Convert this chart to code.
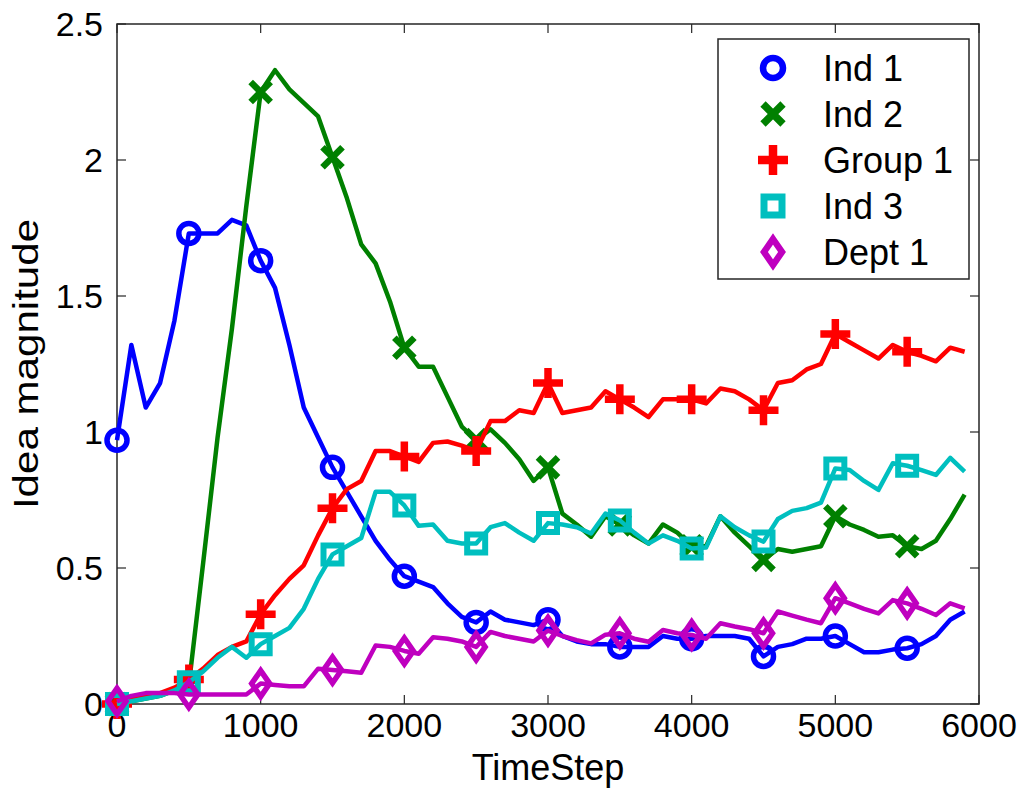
<!DOCTYPE html>
<html>
<head>
<meta charset="utf-8">
<script src="https://cdn.jsdelivr.net/npm/d3@7"></script>
<style>
  body { margin: 0; background: #fff; }
  text { font-family: "Liberation Sans", Arial, Helvetica, sans-serif; fill: #000; }
</style>
</head>
<body>
<div id="chart"></div>
<script>
// Dimensions
const width = 1024;
const height = 794;
const margin = { top: 24, right: 45, bottom: 90, left: 117 };

// Data (sampled every 100 time steps)
const timeSteps = [
  0, 100, 200, 300, 400, 500, 600, 700, 800, 900,
  1000, 1100, 1200, 1300, 1400, 1500, 1600, 1700, 1800, 1900,
  2000, 2100, 2200, 2300, 2400, 2500, 2600, 2700, 2800, 2900,
  3000, 3100, 3200, 3300, 3400, 3500, 3600, 3700, 3800, 3900,
  4000, 4100, 4200, 4300, 4400, 4500, 4600, 4700, 4800, 4900,
  5000, 5100, 5200, 5300, 5400, 5500, 5600, 5700, 5800, 5900
];

const ind1 = [
  0.97, 1.32, 1.09, 1.18, 1.41, 1.73, 1.73, 1.73, 1.78, 1.76,
  1.63, 1.53, 1.32, 1.09, 0.98, 0.87, 0.78, 0.69, 0.60, 0.53,
  0.47, 0.45, 0.43, 0.37, 0.32, 0.30, 0.34, 0.31, 0.30, 0.29,
  0.31, 0.25, 0.23, 0.22, 0.22, 0.21, 0.21, 0.21, 0.25, 0.24,
  0.24, 0.25, 0.25, 0.25, 0.24, 0.175, 0.21, 0.22, 0.24, 0.24,
  0.25, 0.22, 0.19, 0.19, 0.20, 0.205, 0.22, 0.25, 0.31, 0.34
];

const ind2 = [
  0.00, 0.01, 0.02, 0.03, 0.05, 0.07, 0.52, 0.98, 1.38, 1.83,
  2.25, 2.33, 2.26, 2.21, 2.16, 2.01, 1.86, 1.69, 1.62, 1.48,
  1.31, 1.24, 1.24, 1.13, 1.02, 0.97, 1.01, 0.96, 0.90, 0.82,
  0.87, 0.70, 0.66, 0.615, 0.69, 0.66, 0.62, 0.59, 0.66, 0.63,
  0.58, 0.58, 0.69, 0.63, 0.58, 0.53, 0.57, 0.56, 0.57, 0.58,
  0.69, 0.66, 0.64, 0.615, 0.62, 0.58, 0.57, 0.60, 0.68, 0.77
];

const group1 = [
  0.00, 0.02, 0.03, 0.04, 0.06, 0.09, 0.13, 0.18, 0.21, 0.23,
  0.33, 0.40, 0.46, 0.51, 0.62, 0.72, 0.79, 0.82, 0.93, 0.93,
  0.91, 0.89, 0.96, 0.965, 0.95, 0.93, 1.04, 1.04, 1.08, 1.07,
  1.18, 1.07, 1.08, 1.09, 1.15, 1.12, 1.09, 1.055, 1.12, 1.12,
  1.12, 1.105, 1.16, 1.15, 1.12, 1.08, 1.18, 1.19, 1.23, 1.25,
  1.36, 1.33, 1.30, 1.27, 1.32, 1.295, 1.28, 1.26, 1.31, 1.295
];

const ind3 = [
  0.00, 0.01, 0.02, 0.03, 0.05, 0.08, 0.12, 0.17, 0.21, 0.17,
  0.22, 0.25, 0.28, 0.35, 0.46, 0.55, 0.58, 0.61, 0.78, 0.78,
  0.73, 0.655, 0.66, 0.60, 0.59, 0.59, 0.65, 0.665, 0.63, 0.60,
  0.665, 0.66, 0.65, 0.627, 0.70, 0.675, 0.63, 0.59, 0.62, 0.60,
  0.572, 0.575, 0.69, 0.65, 0.62, 0.597, 0.68, 0.71, 0.72, 0.74,
  0.866, 0.86, 0.82, 0.787, 0.885, 0.876, 0.86, 0.842, 0.905, 0.854
];

const dept1 = [
  0.01, 0.03, 0.04, 0.04, 0.04, 0.035, 0.035, 0.035, 0.035, 0.035,
  0.075, 0.07, 0.065, 0.065, 0.13, 0.125, 0.12, 0.115, 0.215, 0.21,
  0.195, 0.185, 0.245, 0.24, 0.23, 0.21, 0.265, 0.25, 0.24, 0.23,
  0.27, 0.25, 0.235, 0.223, 0.255, 0.26, 0.24, 0.229, 0.272, 0.26,
  0.254, 0.24, 0.297, 0.285, 0.275, 0.26, 0.34, 0.325, 0.31, 0.297,
  0.389, 0.37, 0.35, 0.333, 0.382, 0.37, 0.35, 0.327, 0.37, 0.352
];

const seriesNames = ["Ind 1", "Ind 2", "Group 1", "Ind 3", "Dept 1"];
const seriesColors = ["#0000ff", "#008000", "#ff0000", "#00bfbf", "#bf00bf"];
const seriesMarkers = ["circle", "x", "plus", "square", "diamond"];
const seriesValues = [ind1, ind2, group1, ind3, dept1];

const xTicks = [0, 1000, 2000, 3000, 4000, 5000, 6000];
const yTicks = [0, 0.5, 1, 1.5, 2, 2.5];

const svg = d3
  .select("#chart")
  .append("svg")
  .attr("width", width)
  .attr("height", height);

// Scales
const x = d3
  .scaleLinear()
  .domain([0, 6000])
  .range([margin.left, width - margin.right]);

const y = d3
  .scaleLinear()
  .domain([0, 2.5])
  .range([height - margin.bottom, margin.top]);

const x0 = x.range()[0], x1 = x.range()[1];
const y0 = y.range()[0], y1 = y.range()[1];

// Marker shapes
function markerPath(type) {
  switch (type) {
    case "circle":
      return "M10,0A10,10 0 1,1 -10,0A10,10 0 1,1 10,0Z";
    case "x":
      return "M-10,-10L10,10M-10,10L10,-10";
    case "plus":
      return "M-15,0L15,0M0,-15L0,15";
    case "square":
      return "M-9,-9L9,-9L9,9L-9,9Z";
    case "diamond":
      return "M0,-13L9,0L0,13L-9,0Z";
  }
}
const markerWidth = { circle: 5.5, x: 6.5, plus: 7.5, square: 6, diamond: 5.5 };

// Axes box with inward ticks on all sides
const axisColor = "#262626";

svg.append("rect")
  .attr("x", x0).attr("y", y1)
  .attr("width", x1 - x0).attr("height", y0 - y1)
  .attr("fill", "none")
  .attr("stroke", axisColor)
  .attr("stroke-width", 1.5);

const tickLen = 9;
xTicks.forEach(t => {
  svg.append("line")
    .attr("x1", x(t)).attr("x2", x(t))
    .attr("y1", y0).attr("y2", y0 - tickLen)
    .attr("stroke", axisColor).attr("stroke-width", 1.2);
  svg.append("line")
    .attr("x1", x(t)).attr("x2", x(t))
    .attr("y1", y1).attr("y2", y1 + tickLen)
    .attr("stroke", axisColor).attr("stroke-width", 1.2);
  svg.append("text")
    .attr("x", x(t))
    .attr("y", y0 + 33)
    .attr("text-anchor", "middle")
    .attr("font-size", "34px")
    .text(t);
});

yTicks.forEach(v => {
  svg.append("line")
    .attr("x1", x0).attr("x2", x0 + tickLen)
    .attr("y1", y(v)).attr("y2", y(v))
    .attr("stroke", axisColor).attr("stroke-width", 1.2);
  svg.append("line")
    .attr("x1", x1).attr("x2", x1 - tickLen)
    .attr("y1", y(v)).attr("y2", y(v))
    .attr("stroke", axisColor).attr("stroke-width", 1.2);
  svg.append("text")
    .attr("x", x0 - 14)
    .attr("y", y(v))
    .attr("dy", "0.36em")
    .attr("text-anchor", "end")
    .attr("font-size", "34px")
    .text(v);
});

// Line generator
const line = d3
  .line()
  .x((d, i) => x(timeSteps[i]))
  .y(d => y(d));

// Draw each series: line then markers every 500 steps
seriesValues.forEach((values, k) => {
  svg.append("path")
    .datum(values)
    .attr("fill", "none")
    .attr("stroke", seriesColors[k])
    .attr("stroke-width", 4.5)
    .attr("stroke-linejoin", "round")
    .attr("d", line);

  const pts = timeSteps
    .map((t, i) => ({ t: t, v: values[i] }))
    .filter(d => d.t % 500 === 0);

  svg.selectAll(null)
    .data(pts)
    .join("path")
    .attr("transform", d => `translate(${x(d.t)},${y(d.v)})`)
    .attr("d", markerPath(seriesMarkers[k]))
    .attr("fill", "none")
    .attr("stroke", seriesColors[k])
    .attr("stroke-width", markerWidth[seriesMarkers[k]]);
});

// Legend
const legend = svg.append("g");
legend.append("rect")
  .attr("x", 718).attr("y", 39)
  .attr("width", 251).attr("height", 240)
  .attr("fill", "#fff")
  .attr("stroke", axisColor)
  .attr("stroke-width", 1.5);

seriesNames.forEach((name, k) => {
  const ly = 68 + k * 46;
  legend.append("path")
    .attr("transform", `translate(773,${ly})`)
    .attr("d", markerPath(seriesMarkers[k]))
    .attr("fill", "none")
    .attr("stroke", seriesColors[k])
    .attr("stroke-width", markerWidth[seriesMarkers[k]] + 1);
  legend.append("text")
    .attr("x", 823)
    .attr("y", ly)
    .attr("dy", "0.36em")
    .attr("font-size", "36px")
    .text(name);
});

// Axis labels
svg.append("text")
  .attr("x", (x0 + x1) / 2)
  .attr("y", height - 14)
  .attr("text-anchor", "middle")
  .attr("font-size", "36px")
  .text("TimeStep");

svg.append("text")
  .attr("transform", `translate(38,${(y0 + y1) / 2}) rotate(-90) scale(1.17,1)`)
  .attr("text-anchor", "middle")
  .attr("font-size", "36px")
  .text("Idea magnitude");
</script>
</body>
</html>
